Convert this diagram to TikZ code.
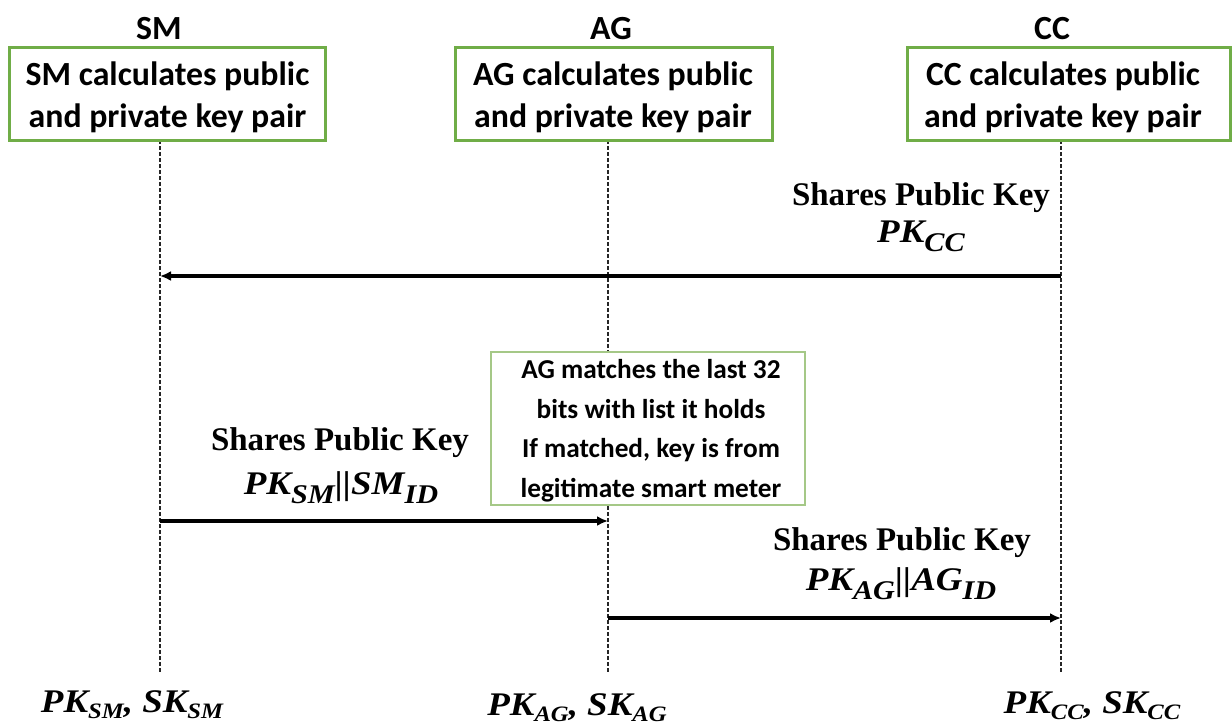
\documentclass[tikz,border=0pt]{standalone}
\usepackage{fontspec}
\setmainfont{Carlito}
\newfontfamily\msgfont{Liberation Serif}
\newfontfamily\keyfont{Liberation Serif}[FakeStretch=1.12]
\usetikzlibrary{arrows.meta}
\definecolor{boxgreen}{RGB}{112,173,71}
\definecolor{notegreen}{RGB}{165,200,135}

% subscripts of the key names
\newcommand\ksub[1]{\raisebox{-9pt}{\fontsize{27}{27}\selectfont #1}}
\newcommand\kbsub[1]{\raisebox{-6pt}{\fontsize{22}{22}\selectfont #1}}

\tikzset{
  header/.style={font=\bfseries\fontsize{33.8}{42}\selectfont, anchor=base, inner sep=0pt},
  keybox/.style={draw=boxgreen, line width=3pt, fill=white, inner sep=0pt},
  boxtext/.style={font=\bfseries\fontsize{33.8}{42}\selectfont, align=center, inner sep=0pt},
  notebox/.style={draw=notegreen, line width=1.5pt, fill=white, inner sep=0pt},
  notetext/.style={font=\bfseries\fontsize{27.3}{39.5}\selectfont, align=center, inner sep=0pt},
  msg/.style={font=\msgfont\bfseries\fontsize{33}{40}\selectfont, anchor=base, inner sep=0pt},
  keylbl/.style={font=\keyfont\bfseries\itshape\fontsize{33}{40}\selectfont, anchor=base, inner sep=0pt},
  lifeline/.style={dash pattern=on 4pt off 2pt, line width=1.6pt, black!85},
  msgarrow/.style={line width=3.2pt, -{Latex[length=11pt,width=10pt]}},
}

\begin{document}
\begin{tikzpicture}[x=1pt,y=-1pt]
\useasboundingbox (0,0) rectangle (1232,726);

% lifelines
\coordinate (smtop) at (160,140);  \coordinate (smbot) at (160,672);
\coordinate (agtop) at (608,140);  \coordinate (agbot) at (608,672);
\coordinate (cctop) at (1061,140); \coordinate (ccbot) at (1061,672);
\draw[lifeline] (smtop) -- (smbot);
\draw[lifeline] (agtop) -- (agbot);
\draw[lifeline] (cctop) -- (ccbot);

% parties
\node[header] (smhead) at (159,39) {SM};
\node[header] (aghead) at (611,39) {AG};
\node[header] (cchead) at (1052,39) {CC};

\node[keybox, minimum width=316pt, minimum height=93pt] (smbox) at (167,93.5) {};
\node[keybox, minimum width=317pt, minimum height=93pt] (agbox) at (613.5,93.5) {};
\node[keybox, minimum width=323pt, minimum height=93pt] (ccbox) at (1068.5,93.5) {};
\node[boxtext] (smtext) at (167.5,97.5) {SM calculates public\\and private key pair};
\node[boxtext] (agtext) at (613,97.5) {AG calculates public\\and private key pair};
\node[boxtext] (cctext) at (1063,97.5) {CC calculates public\\and private key pair};

% message 1: CC -> SM
\coordinate (m1a) at (1061,276);
\coordinate (m1b) at (160,276);
\draw[msgarrow] (m1a) -- (m1b);
\node[msg] (m1lbl) at (921,205) {Shares Public Key};
\node[keylbl] (m1key) at (921,242) {PK\ksub{CC}};

% AG check note
\node[notebox, minimum width=314pt, minimum height=153pt] (note) at (648,428.5) {};
\node[notetext] (notetxt) at (651,430.5) {AG matches the last 32\\bits with list it holds\\If matched, key is from\\legitimate smart meter};

% message 2: SM -> AG
\coordinate (m2a) at (160,521);
\coordinate (m2b) at (608,521);
\draw[msgarrow] (m2a) -- (m2b);
\node[msg] (m2lbl) at (340,450) {Shares Public Key};
\node[keylbl] (m2key) at (341,494) {PK\ksub{SM}||SM\ksub{ID}};

% message 3: AG -> CC
\coordinate (m3a) at (608,618);
\coordinate (m3b) at (1061,618);
\draw[msgarrow] (m3a) -- (m3b);
\node[msg] (m3lbl) at (902,550) {Shares Public Key};
\node[keylbl] (m3key) at (901,590) {PK\ksub{AG}||AG\ksub{ID}};

% resulting key pairs
\node[keylbl] (smkeys) at (132,712) {PK\kbsub{SM}, SK\kbsub{SM}};
\node[keylbl] (agkeys) at (577,715) {PK\kbsub{AG}, SK\kbsub{AG}};
\node[keylbl] (cckeys) at (1092,713) {PK\kbsub{CC}, SK\kbsub{CC}};
\end{tikzpicture}
\end{document}
